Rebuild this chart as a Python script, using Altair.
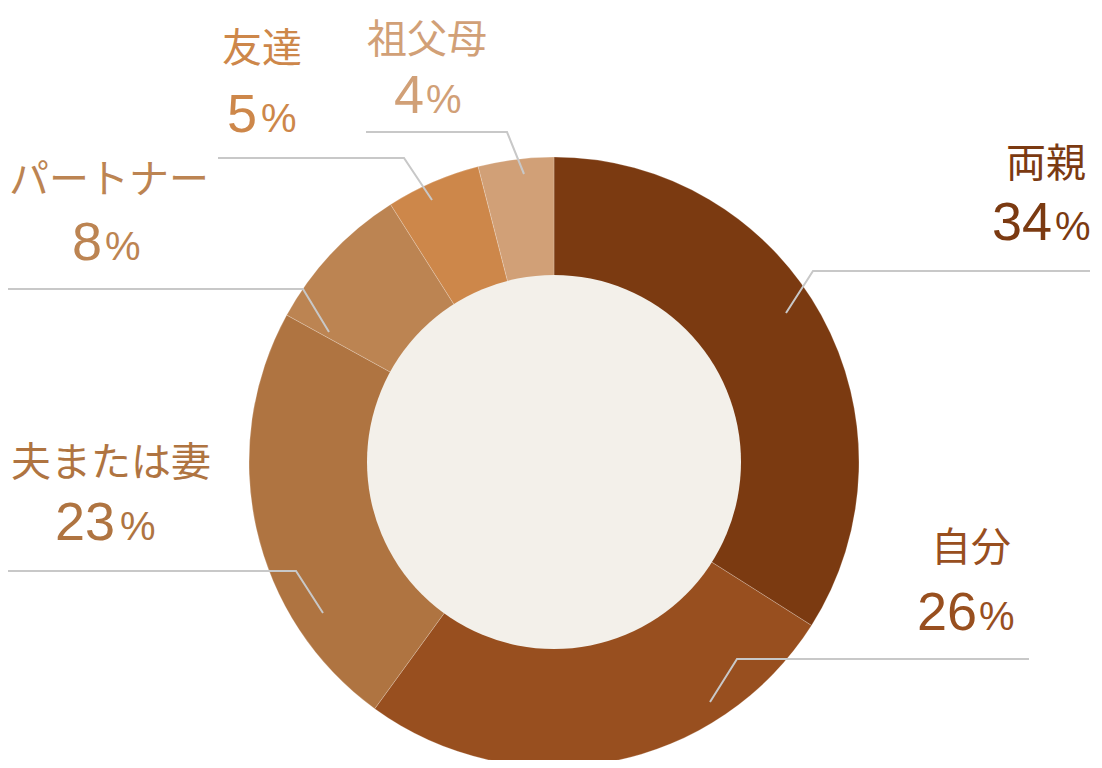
import altair as alt
import pandas as pd

# ---- data ----
labels = ["両親", "自分", "夫または妻", "パートナー", "友達", "祖父母"]
values = [34, 26, 23, 8, 5, 4]
colors = ["#7B3A11", "#984F1F", "#AF7441", "#BC8452", "#CD874A", "#D1A077"]

# ---- annotation layout (page pixel coordinates) ----
name_x = [1046, 971, 111, 109, 262, 427]
name_y = [177, 561, 476, 193, 62, 53]
num_x = [1052, 977, 115, 102, 257, 424]
pct_x = [1055, 979, 120, 105, 261, 426]
num_y = [240, 630, 540, 260, 132, 113]
leader_x = [[1090, 813, 786], [1029, 737, 710], [5, 296, 323],
            [2, 303, 329], [218, 404, 432], [366, 507, 524]]
leader_y = [[271, 271, 313], [659, 659, 702], [571, 571, 613],
            [289, 289, 332], [158, 158, 200], [132, 132, 174]]

W, H = 1086, 752
CX, CY = 554, 462
R_OUT, R_IN = 305, 187

slices = pd.DataFrame({"label": labels, "value": values, "idx": list(range(len(labels)))})
ann = pd.DataFrame({
    "label": labels, "value": [str(v) for v in values],
    "nx": name_x, "ny": name_y, "vx": num_x, "px": pct_x, "vy": num_y,
})
rows = []
for lab, xs_, ys_ in zip(labels, leader_x, leader_y):
    for i, (xx, yy) in enumerate(zip(xs_, ys_)):
        rows.append({"label": lab, "pt": i, "x": xx, "y": yy})
lines = pd.DataFrame(rows)
center = pd.DataFrame({"x": [CX], "y": [CY]})

xs = alt.Scale(domain=[8, 8 + W], nice=False, zero=False)
ys = alt.Scale(domain=[8, 8 + H], nice=False, zero=False, reverse=True)
cs = alt.Scale(domain=labels, range=colors)

donut = alt.Chart(slices).mark_arc(
    innerRadius=R_IN - 2, outerRadius=R_OUT, x=CX - 8, y=CY - 8,
    stroke="#ffffff", strokeWidth=0.6, strokeOpacity=0.35,
).encode(
    theta=alt.Theta("value:Q", stack=True),
    order=alt.Order("idx:Q"),
    color=alt.Color("label:N", scale=cs, legend=None),
)

# Vega circle symbol: radius = sqrt(size) / 2
hole = alt.Chart(center).mark_circle(size=(2 * R_IN) ** 2, opacity=1, color="#F3F0EA").encode(
    x=alt.X("x:Q", scale=xs, axis=None),
    y=alt.Y("y:Q", scale=ys, axis=None),
)

leaders = alt.Chart(lines).mark_line(color="#C8C8C8", strokeWidth=2).encode(
    x=alt.X("x:Q", scale=xs, axis=None),
    y=alt.Y("y:Q", scale=ys, axis=None),
    detail="label:N",
    order="pt:Q",
)

names = alt.Chart(ann).mark_text(
    font="Noto Sans CJK JP", fontSize=40, align="center", baseline="alphabetic",
).encode(
    x=alt.X("nx:Q", scale=xs, axis=None),
    y=alt.Y("ny:Q", scale=ys, axis=None),
    text="label:N",
    color=alt.Color("label:N", scale=cs, legend=None),
)

nums = alt.Chart(ann).mark_text(
    font="Liberation Sans", fontSize=54, align="right", baseline="alphabetic",
).encode(
    x=alt.X("vx:Q", scale=xs, axis=None),
    y=alt.Y("vy:Q", scale=ys, axis=None),
    text="value:N",
    color=alt.Color("label:N", scale=cs, legend=None),
)

pcts = alt.Chart(ann).mark_text(
    font="Liberation Sans", fontSize=40, align="left", baseline="alphabetic", text="%",
).encode(
    x=alt.X("px:Q", scale=xs, axis=None),
    y=alt.Y("vy:Q", scale=ys, axis=None),
    color=alt.Color("label:N", scale=cs, legend=None),
)

chart = alt.layer(donut, hole, leaders, names, nums, pcts).properties(
    width=W, height=H,
    autosize=alt.AutoSizeParams(type="none"),
    padding=0,
    background="#ffffff",
).configure_view(stroke=None)

chart.save("out.html", embed_options={"renderer": "svg", "actions": False})
